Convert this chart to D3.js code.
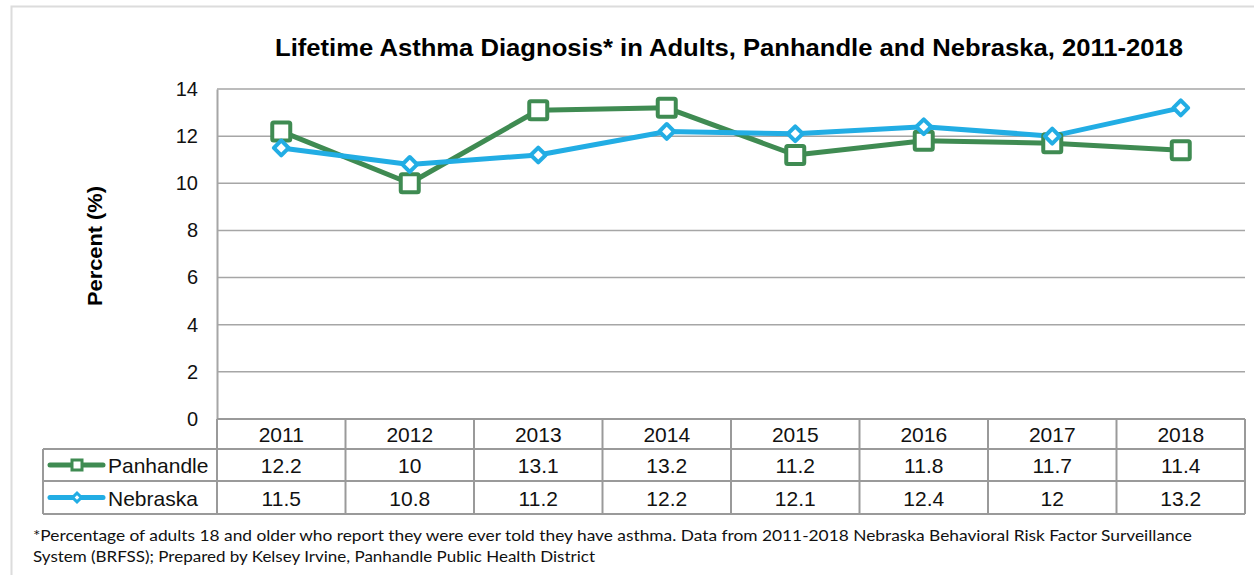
<!DOCTYPE html>
<html><head><meta charset="utf-8">
<script src="https://cdn.jsdelivr.net/npm/d3@7"></script>
<style>body{margin:0;background:#fff}svg{display:block}</style>
</head><body>
<svg id="c" width="1254" height="575"></svg>
<script>
const years = ["2011","2012","2013","2014","2015","2016","2017","2018"];
const panhandle = [12.2,10,13.1,13.2,11.2,11.8,11.7,11.4];
const nebraska = [11.5,10.8,11.2,12.2,12.1,12.4,12,13.2];
const yTicks = [0,2,4,6,8,10,12,14];
const seriesNames = ["Panhandle","Nebraska"];
const titleText = "Lifetime Asthma Diagnosis* in Adults, Panhandle and Nebraska, 2011-2018";
const yLabel = "Percent (%)";
const foot1 = "*Percentage of adults 18 and older who report they were ever told they have asthma. Data from 2011-2018 Nebraska Behavioral Risk Factor Surveillance";
const foot2 = "System (BRFSS); Prepared by Kelsey Irvine, Panhandle Public Health District";

const svg = d3.select("#c");
const green = "#3f8b52", blue = "#22ade4", grid = "#a6a6a6", tbl = "#9a9a9a";
const L = 217, R = 1245, T = 89, B = 419;
const x = d3.scaleBand().domain(years).range([L, R]);
const y = d3.scaleLinear().domain([0,14]).range([B, T]);
const tf = "Liberation Sans, Arial, sans-serif";

// outer border
svg.append("rect").attr("x",11.5).attr("y",6.5).attr("width",1260).attr("height",600)
  .attr("fill","none").attr("stroke","#dcdcdc").attr("stroke-width",2);

// title
svg.append("text").attr("x",275).attr("y",56)
  .attr("font-family",tf).attr("font-weight","bold")
  .attr("font-size",23).attr("textLength",908).attr("lengthAdjust","spacingAndGlyphs").text(titleText);

// gridlines
svg.append("g").selectAll("line").data(yTicks.filter(d=>d>0)).join("line")
  .attr("x1",L).attr("x2",R).attr("y1",d=>y(d)).attr("y2",d=>y(d))
  .attr("stroke",grid).attr("stroke-width",1.5);

// y axis
const ya = svg.append("g").attr("transform",`translate(${L},0)`)
  .call(d3.axisLeft(y).tickValues(yTicks).tickSize(0).tickPadding(19));
ya.select(".domain").attr("stroke",grid).attr("stroke-width",2);
ya.selectAll("text").attr("font-family",tf).attr("font-size",20).attr("fill","#111");

svg.append("text").attr("transform","translate(102,246) rotate(-90)").attr("text-anchor","middle")
  .attr("font-family",tf).attr("font-weight","bold").attr("font-size",20)
  .attr("textLength",120).attr("lengthAdjust","spacingAndGlyphs")
  .text(yLabel);

// lines
const line = d3.line().x((d,i)=>x(years[i])+x.bandwidth()/2).y(d=>y(d));
svg.append("path").datum(panhandle).attr("d",line).attr("fill","none").attr("stroke",green).attr("stroke-width",5).attr("stroke-linejoin","round");
svg.append("path").datum(nebraska).attr("d",line).attr("fill","none").attr("stroke",blue).attr("stroke-width",5).attr("stroke-linejoin","round");

svg.append("g").selectAll("rect").data(panhandle).join("rect")
  .attr("x",(d,i)=>x(years[i])+x.bandwidth()/2-9).attr("y",d=>y(d)-9)
  .attr("width",18).attr("height",18).attr("rx",1.5)
  .attr("fill","#fff").attr("stroke",green).attr("stroke-width",4);
svg.append("g").selectAll("path").data(nebraska).join("path")
  .attr("d",d3.symbol().type(d3.symbolSquare).size(110))
  .attr("transform",(d,i)=>`translate(${x(years[i])+x.bandwidth()/2},${y(d)}) rotate(45)`)
  .attr("fill","#fff").attr("stroke",blue).attr("stroke-width",4).attr("stroke-linejoin","round");

// table
const rows = [419,449,481,514];
const tg = svg.append("g");
tg.append("line").attr("x1",L).attr("x2",R).attr("y1",B).attr("y2",B).attr("stroke",tbl).attr("stroke-width",2);
[1,2,3].forEach(k=>{
  tg.append("line").attr("x1",43).attr("x2",R).attr("y1",rows[k]).attr("y2",rows[k]).attr("stroke",tbl).attr("stroke-width",2);
});
tg.append("line").attr("x1",43).attr("x2",43).attr("y1",rows[1]).attr("y2",rows[3]).attr("stroke",tbl).attr("stroke-width",2);
tg.selectAll("line.v").data(years.concat(["end"])).join("line").attr("class","v")
  .attr("x1",d=>d==="end"?R:x(d)).attr("x2",d=>d==="end"?R:x(d))
  .attr("y1",B).attr("y2",rows[3]).attr("stroke",tbl).attr("stroke-width",2);

tg.selectAll("text.h").data(years).join("text").attr("class","h")
  .attr("x",d=>x(d)+x.bandwidth()/2).attr("y",442).attr("text-anchor","middle")
  .attr("font-family",tf).attr("font-size",21).attr("fill","#111").text(d=>d);
[panhandle, nebraska].forEach((arr,r)=>{
  tg.selectAll("text.r"+r).data(arr).join("text").attr("class","r"+r)
    .attr("x",(d,i)=>x(years[i])+x.bandwidth()/2).attr("y",(rows[r+1]+rows[r+2])/2+8)
    .attr("text-anchor","middle").attr("font-family",tf).attr("font-size",21).attr("fill","#111").text(d=>d);
});
// legend
seriesNames.forEach((n,r)=>{
  const cy = (rows[r+1]+rows[r+2])/2;
  const col = r===0?green:blue;
  tg.append("line").attr("x1",50).attr("x2",103).attr("y1",cy).attr("y2",cy).attr("stroke",col).attr("stroke-width",5).attr("stroke-linecap","round");
  if(r===0){
    tg.append("rect").attr("x",72).attr("y",cy-5).attr("width",10).attr("height",10).attr("fill","#fff").attr("stroke",col).attr("stroke-width",3);
  } else {
    tg.append("path").attr("d",d3.symbol().type(d3.symbolSquare).size(40)).attr("transform",`translate(77,${cy}) rotate(45)`)
      .attr("fill","#fff").attr("stroke",col).attr("stroke-width",3);
  }
  tg.append("text").attr("x",108).attr("y",cy+8).attr("font-family",tf).attr("font-size",21).attr("fill","#111").text(n);
});

// footnote
const ff = "Lato, 'Open Sans', sans-serif";
svg.append("text").attr("x",33).attr("y",541).attr("font-family",ff).attr("font-size",15).attr("fill","#111")
  .attr("textLength",1159).attr("lengthAdjust","spacingAndGlyphs").text(foot1);
svg.append("text").attr("x",33).attr("y",562).attr("font-family",ff).attr("font-size",15).attr("fill","#111")
  .attr("textLength",562).attr("lengthAdjust","spacingAndGlyphs").text(foot2);
</script>
</body></html>
